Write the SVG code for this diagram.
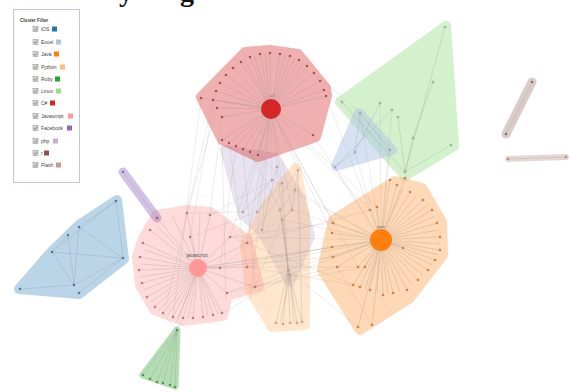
<svg xmlns="http://www.w3.org/2000/svg" width="569" height="392" viewBox="0 0 569 392">
<style>
.hull{stroke-linejoin:round;stroke-linecap:round;stroke-width:10;opacity:.36}
.cap{fill:none;stroke-linecap:round;stroke-width:9;opacity:.4}
.link{stroke:#8a8a8a;stroke-width:.45;stroke-opacity:.55;fill:none}
.lt{stroke:#9a9a9a;stroke-width:.4;stroke-opacity:.45;fill:none}
.n{stroke:#666;stroke-width:.3}
.lbl{font-family:"Liberation Sans",Arial,sans-serif;fill:#555}
.lg text{font-family:"Liberation Sans",Arial,sans-serif;font-size:5px;fill:#444}
.cb{fill:#d8d8d8;stroke:#8a8a8a;stroke-width:.5}
.ck{fill:none;stroke:#555;stroke-width:.6}
.ttl{font-family:"Liberation Serif",serif;font-size:28px;font-weight:bold;fill:#111}
</style>
<rect width="569" height="392" fill="#fff"/>
<g id="title"><text class="ttl" x="119" y="0.5">y</text><text class="ttl" x="180" y="0.5">g</text></g>
<g id="hulls">
<path class="hull" fill="#c5b0d5" stroke="#c5b0d5" d="M225,150L275,158L300,198L310,236L290,282L262,232L243,215Z"/>
<path class="hull" fill="#ffbb78" stroke="#ffbb78" d="M296,168L305,215L305,325L272,327L250,290L245,245L270,200Z"/>
<path class="hull" fill="#d62728" stroke="#d62728" d="M201,97L245,52L270,50L298,54L326,88L327,96L316,137L258,157L222,140Z" style="opacity:.36"/>
<path class="hull" fill="#98df8a" stroke="#98df8a" d="M446,26L454,146L405,176L340,102Z" style="opacity:.42"/>
<path class="hull" fill="#aec7e8" stroke="#aec7e8" d="M359,113L392,150L336,166Z" style="opacity:.5"/>
<path class="hull" fill="#ff7f0e" stroke="#ff7f0e" d="M395,181L422,188L442,222L443,255L410,298L360,330L322,270L333,220Z" style="opacity:.3"/>
<path class="hull" fill="#ff9896" stroke="#ff9896" d="M157,216L187,211L210,213L247,241L258,286L227,295L222,315L183,320L155,309L141,285L138,257L143,241Z" style="stroke-width:12;opacity:.35"/>
<path class="hull" fill="#1f77b4" stroke="#1f77b4" d="M117,200L124,259L79,294L19,289L52,251L79,225Z" style="opacity:.3"/>
<path class="hull" fill="#2ca02c" stroke="#2ca02c" d="M177,330L175,386L143,375Z" style="stroke-width:7;opacity:.35"/>
<path class="cap" stroke="#9467bd" d="M123,172L157,218"/>
<path class="cap" stroke="#8c564b" d="M532,82L506,134" style="opacity:.3"/>
<path class="cap" stroke="#c49c94" d="M508,159L566,157" style="stroke-width:6"/>
</g>
<g id="connectors">
<path class="link" d="M271,109L213,100M271,109L216,91M271,109L220,83M271,109L226,75M271,109L233,68M271,109L241,62M271,109L250,57M271,109L260,54M271,109L270,53M271,109L280,54M271,109L290,56M271,109L299,60M271,109L307,66M271,109L314,73M271,109L320,81M271,109L324,90M271,109L326,96M271,109L201,98M271,109L217,108M271,109L222,117M271,109L222,140M271,109L229,143M271,109L236,146M271,109L243,149M271,109L250,152M271,109L258,155M271,109L313,135M271,109L244,59M271,109L254,55M271,109L265,53M271,109L285,55M271,109L295,58M271,109L303,63"/>
<path class="lt" d="M271,109L243,212M271,109L257,212M271,109L272,180M271,109L282,183M271,109L298,170M271,109L333,223M271,109L370,210M271,109L247,243M271,109L292,210M271,109L230,237M271,109L288,270M271,109L377,207M271,109L332,233M271,109L358,267M271,109L262,230M271,109L250,300M216,91L190,237M213,100L165,310M217,108L187,213M222,117L210,215M201,98L173,317M222,140L226,300M229,143L247,267M236,146L220,268M243,149L255,287M250,152L280,210M258,155L295,190M313,135L381,240M326,96L370,210M324,90L342,102M314,73L360,113"/>
<path class="link" d="M198,268L157,218M198,268L150,230M198,268L143,243M198,268L140,257M198,268L139,270M198,268L142,283M198,268L147,297M198,268L155,307M198,268L163,313M198,268L173,317M198,268L183,318M198,268L193,318M198,268L203,317M198,268L213,315M198,268L222,313M198,268L187,213M198,268L210,215M198,268L190,237M198,268L230,237M198,268L220,268M198,268L247,267M198,268L227,293M198,268L255,287M198,268L247,243M198,268L172,215M198,268L200,213M198,268L145,250M198,268L141,264M198,268L140,277M198,268L144,290M198,268L151,302M198,268L159,310M198,268L168,315M198,268L178,318M198,268L188,318M198,268L208,316M198,268L218,314M198,268L177,322M198,268L157,226"/>
<path class="lt" d="M198,268L332,247M198,268L333,257M220,268L332,247M247,267L358,267M230,237L333,223M227,293L337,267M255,287L365,267M247,243L370,210M210,215L272,180M187,213L243,212M190,237L257,212M220,268L292,210M255,287L282,220M247,243L298,170M227,293L288,270M222,313L290,275M230,237L360,287M247,267L353,285M198,268L381,240M163,313L177,330M183,318L177,330"/>
<path class="link" d="M381,240L397,185M381,240L410,192M381,240L423,200M381,240L432,210M381,240L437,223M381,240L440,237M381,240L440,250M381,240L435,260M381,240L428,270M381,240L418,280M381,240L407,290M381,240L393,293M381,240L383,295M381,240L370,290M381,240L360,287M381,240L353,285M381,240L333,223M381,240L332,233M381,240L332,247M381,240L333,257M381,240L337,267M381,240L358,267M381,240L365,267M381,240L370,210M381,240L377,207M381,240L403,248M381,240L358,327M381,240L372,325M381,240L405,178M381,240L390,180M381,240L403,188M381,240L416,196M381,240L428,205M381,240L435,216M381,240L439,230M381,240L440,244M381,240L438,255M381,240L432,265M381,240L423,275M381,240L412,285M381,240L400,292M381,240L388,294M381,240L377,293M381,240L365,289"/>
<path class="lt" d="M381,240L292,210M381,240L282,220M381,240L288,270M381,240L255,287M381,240L247,267M381,240L230,237M381,240L360,113M381,240L380,103M381,240L392,110M381,240L355,152M381,240L390,150M381,240L335,167M381,240L272,180M381,240L295,190M358,327L288,270M372,325L337,267"/>
<path class="link" d="M445,27L405,172M433,82L413,138M413,138L405,172M342,102L405,172M380,103L355,152M392,110L335,167M398,117L405,172M451,145L405,172M360,113L355,152M360,113L390,150M355,152L335,167"/>
<path class="link" d="M288,270L276,323M288,270L283,324M288,270L290,323M288,270L297,323M288,270L302,322M290,275L280,323M290,275L294,323M298,170L295,190M295,190L280,210M295,190L292,210M292,210L282,220M282,220L288,270M280,210L290,275M298,170L302,322M282,183L288,270M277,167L262,230M272,180L243,212M282,183L257,212"/>
<path class="link" d="M116,201L79,227M116,201L123,258M79,227L74,285M52,252L74,285M52,252L123,258M79,227L123,258M20,289L74,285M74,285L123,258M79,293L123,258M68,235L52,252M116,201L52,252M68,235L74,285"/>
<path class="link" d="M177,330L143,375M177,330L150,379M177,330L157,382M177,330L163,383M177,330L170,385M177,330L175,387"/>
<path class="link" d="M123,172L157,218M532,82L506,134M508,159L566,157"/>
</g>
<g id="node-csharp" fill="#d62728">
<g class="n"><circle cx="213" cy="100" r="1.1"/><circle cx="216" cy="91" r="1.1"/><circle cx="220" cy="83" r="1.1"/><circle cx="226" cy="75" r="1.1"/><circle cx="233" cy="68" r="1.1"/><circle cx="241" cy="62" r="1.1"/><circle cx="250" cy="57" r="1.1"/><circle cx="260" cy="54" r="1.1"/><circle cx="270" cy="53" r="1.1"/><circle cx="280" cy="54" r="1.1"/><circle cx="290" cy="56" r="1.1"/><circle cx="299" cy="60" r="1.1"/><circle cx="307" cy="66" r="1.1"/><circle cx="314" cy="73" r="1.1"/><circle cx="320" cy="81" r="1.1"/><circle cx="324" cy="90" r="1.1"/><circle cx="326" cy="96" r="1.1"/><circle cx="201" cy="98" r="1.1"/><circle cx="217" cy="108" r="1.1"/><circle cx="222" cy="117" r="1.1"/><circle cx="222" cy="140" r="1.1"/><circle cx="229" cy="143" r="1.1"/><circle cx="236" cy="146" r="1.1"/><circle cx="243" cy="149" r="1.1"/><circle cx="250" cy="152" r="1.1"/><circle cx="258" cy="155" r="1.1"/><circle cx="313" cy="135" r="1.1"/></g>
<circle cx="271" cy="109" r="10"/>
<text class="lbl" x="272" y="97" font-size="4" text-anchor="middle">c#</text>
</g>
<g id="node-javascript" fill="#ff9896">
<g class="n" fill="#e0706e"><circle cx="157" cy="218" r="1.1"/><circle cx="150" cy="230" r="1.1"/><circle cx="143" cy="243" r="1.1"/><circle cx="140" cy="257" r="1.1"/><circle cx="139" cy="270" r="1.1"/><circle cx="142" cy="283" r="1.1"/><circle cx="147" cy="297" r="1.1"/><circle cx="155" cy="307" r="1.1"/><circle cx="163" cy="313" r="1.1"/><circle cx="173" cy="317" r="1.1"/><circle cx="183" cy="318" r="1.1"/><circle cx="193" cy="318" r="1.1"/><circle cx="203" cy="317" r="1.1"/><circle cx="213" cy="315" r="1.1"/><circle cx="222" cy="313" r="1.1"/><circle cx="187" cy="213" r="1.1"/><circle cx="210" cy="215" r="1.1"/><circle cx="190" cy="237" r="1.1"/><circle cx="230" cy="237" r="1.1"/><circle cx="220" cy="268" r="1.1"/><circle cx="247" cy="267" r="1.1"/><circle cx="227" cy="293" r="1.1"/><circle cx="255" cy="287" r="1.1"/><circle cx="247" cy="243" r="1.1"/></g>
<circle cx="198" cy="268" r="9"/>
<text class="lbl" x="197" y="257" font-size="5" text-anchor="middle">javascript</text>
</g>
<g id="node-java" fill="#ff7f0e">
<g class="n"><circle cx="397" cy="185" r="1.1"/><circle cx="410" cy="192" r="1.1"/><circle cx="423" cy="200" r="1.1"/><circle cx="432" cy="210" r="1.1"/><circle cx="437" cy="223" r="1.1"/><circle cx="440" cy="237" r="1.1"/><circle cx="440" cy="250" r="1.1"/><circle cx="435" cy="260" r="1.1"/><circle cx="428" cy="270" r="1.1"/><circle cx="418" cy="280" r="1.1"/><circle cx="407" cy="290" r="1.1"/><circle cx="393" cy="293" r="1.1"/><circle cx="383" cy="295" r="1.1"/><circle cx="370" cy="290" r="1.1"/><circle cx="360" cy="287" r="1.1"/><circle cx="353" cy="285" r="1.1"/><circle cx="333" cy="223" r="1.1"/><circle cx="332" cy="233" r="1.1"/><circle cx="332" cy="247" r="1.1"/><circle cx="333" cy="257" r="1.1"/><circle cx="337" cy="267" r="1.1"/><circle cx="358" cy="267" r="1.1"/><circle cx="365" cy="267" r="1.1"/><circle cx="370" cy="210" r="1.1"/><circle cx="377" cy="207" r="1.1"/><circle cx="403" cy="248" r="1.1"/><circle cx="358" cy="327" r="1.1"/><circle cx="372" cy="325" r="1.1"/><circle cx="405" cy="178" r="1.1"/><circle cx="390" cy="180" r="1.1"/></g>
<circle cx="381" cy="240" r="11"/>
<text class="lbl" x="381" y="228" font-size="4" text-anchor="middle">java</text>
</g>
<g id="node-python" fill="#ffbb78" class="n"><circle cx="298" cy="170" r="1.1"/><circle cx="295" cy="190" r="1.1"/><circle cx="280" cy="210" r="1.1"/><circle cx="292" cy="210" r="1.1"/><circle cx="282" cy="220" r="1.1"/><circle cx="288" cy="270" r="1.1"/><circle cx="290" cy="275" r="1.1"/><circle cx="276" cy="323" r="1.1"/><circle cx="283" cy="324" r="1.1"/><circle cx="290" cy="323" r="1.1"/><circle cx="297" cy="323" r="1.1"/><circle cx="302" cy="322" r="1.1"/></g>
<g id="node-php" fill="#c5b0d5" class="n"><circle cx="272" cy="180" r="1.1"/><circle cx="282" cy="183" r="1.1"/><circle cx="277" cy="167" r="1.1"/><circle cx="243" cy="212" r="1.1"/><circle cx="257" cy="212" r="1.1"/><circle cx="262" cy="230" r="1.1"/></g>
<g id="node-linux" fill="#98df8a" class="n"><circle cx="445" cy="27" r="1.1"/><circle cx="433" cy="82" r="1.1"/><circle cx="342" cy="102" r="1.1"/><circle cx="380" cy="103" r="1.1"/><circle cx="392" cy="110" r="1.1"/><circle cx="398" cy="117" r="1.1"/><circle cx="413" cy="138" r="1.1"/><circle cx="451" cy="145" r="1.1"/><circle cx="405" cy="172" r="1.1"/></g>
<g id="node-excel" fill="#aec7e8" class="n"><circle cx="360" cy="113" r="1.1"/><circle cx="355" cy="152" r="1.1"/><circle cx="390" cy="150" r="1.1"/><circle cx="335" cy="167" r="1.1"/></g>
<g id="node-ios" fill="#1f77b4" class="n"><circle cx="116" cy="201" r="1.1"/><circle cx="79" cy="227" r="1.1"/><circle cx="68" cy="235" r="1.1"/><circle cx="52" cy="252" r="1.1"/><circle cx="123" cy="258" r="1.1"/><circle cx="74" cy="285" r="1.1"/><circle cx="79" cy="293" r="1.1"/><circle cx="20" cy="289" r="1.1"/></g>
<g id="node-ruby" fill="#2ca02c" class="n"><circle cx="177" cy="330" r="1.1"/><circle cx="143" cy="375" r="1.1"/><circle cx="150" cy="379" r="1.1"/><circle cx="157" cy="382" r="1.1"/><circle cx="163" cy="383" r="1.1"/><circle cx="170" cy="385" r="1.1"/><circle cx="175" cy="387" r="1.1"/></g>
<g id="node-facebook" fill="#9467bd" class="n"><circle cx="123" cy="172" r="1.1"/><circle cx="157" cy="218" r="1.1"/></g>
<g id="node-r" fill="#8c564b" class="n"><circle cx="532" cy="82" r="1.1"/><circle cx="506" cy="134" r="1.1"/></g>
<g id="node-flash" fill="#c49c94" class="n"><circle cx="508" cy="159" r="1.1"/><circle cx="566" cy="157" r="1.1"/></g>
<g id="legend" class="lg">
<rect x="13.5" y="9.5" width="66" height="173" fill="#fff" stroke="#bccbdb" stroke-width="1"/>
<text x="20" y="21.5" font-weight="bold" style="font-size:4.6px">Cluster Filter</text>
<g id="lg-ios"><rect class="cb" x="33" y="26.5" width="5" height="5"/><path class="ck" d="M34,29l1.3,1.5l2-3"/><text x="41" y="31">iOS</text><rect x="52" y="26.5" width="5" height="5" fill="#1f77b4"/></g>
<g id="lg-excel"><rect class="cb" x="33" y="39.5" width="5" height="5"/><path class="ck" d="M34,42l1.3,1.5l2-3"/><text x="41" y="44">Excel</text><rect x="56" y="39.5" width="5" height="5" fill="#aec7e8"/></g>
<g id="lg-java"><rect class="cb" x="33" y="51.5" width="5" height="5"/><path class="ck" d="M34,54l1.3,1.5l2-3"/><text x="41" y="56">Java</text><rect x="54" y="51.5" width="5" height="5" fill="#ff7f0e"/></g>
<g id="lg-python"><rect class="cb" x="33" y="64.5" width="5" height="5"/><path class="ck" d="M34,67l1.3,1.5l2-3"/><text x="41" y="69">Python</text><rect x="60" y="64.5" width="5" height="5" fill="#ffbb78"/></g>
<g id="lg-ruby"><rect class="cb" x="33" y="76.5" width="5" height="5"/><path class="ck" d="M34,79l1.3,1.5l2-3"/><text x="41" y="81">Ruby</text><rect x="55" y="76.5" width="5" height="5" fill="#2ca02c"/></g>
<g id="lg-linux"><rect class="cb" x="33" y="88.5" width="5" height="5"/><path class="ck" d="M34,91l1.3,1.5l2-3"/><text x="41" y="93">Linux</text><rect x="56" y="88.5" width="5" height="5" fill="#98df8a"/></g>
<g id="lg-csharp"><rect class="cb" x="33" y="100.5" width="5" height="5"/><path class="ck" d="M34,103l1.3,1.5l2-3"/><text x="41" y="105">C#</text><rect x="50" y="100.5" width="5" height="5" fill="#d62728"/></g>
<g id="lg-javascript"><rect class="cb" x="33" y="113.5" width="5" height="5"/><path class="ck" d="M34,116l1.3,1.5l2-3"/><text x="41" y="118">Javascript</text><rect x="68" y="113.5" width="5" height="5" fill="#ff9896"/></g>
<g id="lg-facebook"><rect class="cb" x="33" y="125.5" width="5" height="5"/><path class="ck" d="M34,128l1.3,1.5l2-3"/><text x="41" y="130">Facebook</text><rect x="67" y="125.5" width="5" height="5" fill="#9467bd"/></g>
<g id="lg-php"><rect class="cb" x="33" y="138.5" width="5" height="5"/><path class="ck" d="M34,141l1.3,1.5l2-3"/><text x="41" y="143">php</text><rect x="53" y="138.5" width="5" height="5" fill="#c5b0d5"/></g>
<g id="lg-r"><rect class="cb" x="33" y="150.5" width="5" height="5"/><path class="ck" d="M34,153l1.3,1.5l2-3"/><text x="41" y="155">r</text><rect x="44" y="150.5" width="5" height="5" fill="#8c564b"/></g>
<g id="lg-flash"><rect class="cb" x="33" y="162.5" width="5" height="5"/><path class="ck" d="M34,165l1.3,1.5l2-3"/><text x="41" y="167">Flash</text><rect x="56" y="162.5" width="5" height="5" fill="#c49c94"/></g>
</g>
</svg>
